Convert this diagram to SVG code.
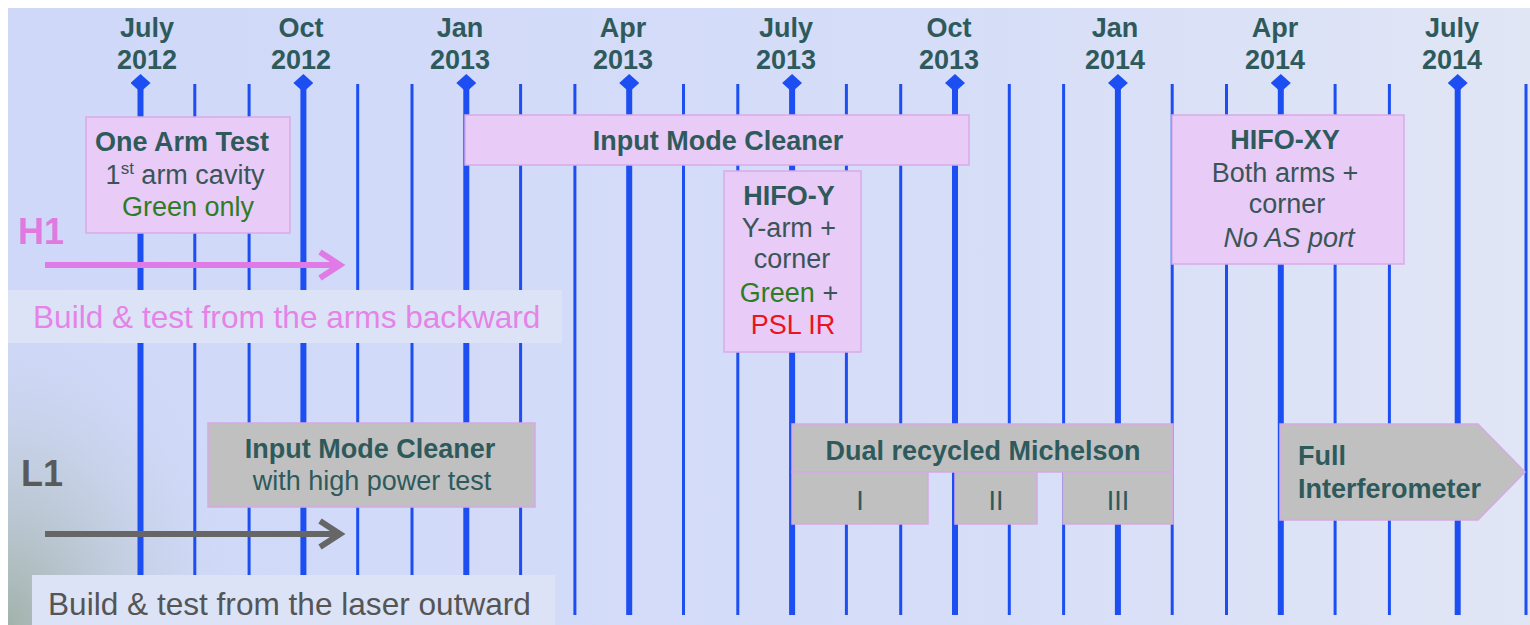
<svg xmlns="http://www.w3.org/2000/svg" width="1530" height="625" viewBox="0 0 1530 625">
<defs>
<linearGradient id="bg" x1="0" y1="0" x2="1" y2="0">
<stop offset="0" stop-color="#cfd8f8"/>
<stop offset="0.6" stop-color="#d5ddf8"/>
<stop offset="1" stop-color="#e1e6f5"/>
</linearGradient>
<radialGradient id="glow" cx="8" cy="625" r="330" gradientUnits="userSpaceOnUse" gradientTransform="translate(8 625) scale(0.75 1) translate(-8 -625)">
<stop offset="0" stop-color="#9fb0a6" stop-opacity="0.95"/>
<stop offset="0.45" stop-color="#b5c2c6" stop-opacity="0.55"/>
<stop offset="1" stop-color="#d0d9f5" stop-opacity="0"/>
</radialGradient>
<marker id="dia" markerWidth="20" markerHeight="18" refX="10" refY="9" markerUnits="userSpaceOnUse" orient="0">
<path d="M10 0 L20 9 L10 18 L0 9 Z" fill="#1c4ef2"/>
</marker>
<style>
.maj{stroke:#1c4ef2;stroke-width:6;marker-start:url(#dia)}
.min{stroke:#1c4ef2;stroke-width:3}
.mon{font-family:"Liberation Sans",Arial,sans-serif;font-weight:bold;font-size:27px;fill:#2e5a5c;text-anchor:middle}
.pink{fill:#e8cbf7;stroke:#d9abe8;stroke-width:1.5}
.gray{fill:#c0c0c0;stroke:#d6a9e4;stroke-width:1.5}
.b{font-family:"Liberation Sans",Arial,sans-serif;font-weight:bold;font-size:27px;fill:#2e5a5c;text-anchor:middle}
.r{font-family:"Liberation Sans",Arial,sans-serif;font-size:27px;fill:#3a5556;text-anchor:middle}
.s{text-anchor:start}
.grn{fill:#2e7d22}
.red{fill:#e8141e}
.tl{fill:#2e5a5c}
.panel{fill:#dce3f6}
.big{font-family:"Liberation Sans",Arial,sans-serif;font-size:31.6px}
.site{font-family:"Liberation Sans",Arial,sans-serif;font-weight:bold;font-size:36px}
</style>
</defs>
<rect x="0" y="0" width="1530" height="625" fill="#ffffff"/>
<rect x="8" y="8" width="1522" height="617" fill="url(#bg)"/>
<rect x="8" y="280" width="600" height="345" fill="url(#glow)"/>

<g id="timeline">
<line class="maj" x1="140.5" y1="83" x2="140.5" y2="615"/>
<line class="min" x1="194.8" y1="84" x2="194.8" y2="615"/>
<line class="min" x1="249.1" y1="84" x2="249.1" y2="615"/>
<line class="maj" x1="303.4" y1="83" x2="303.4" y2="615"/>
<line class="min" x1="357.7" y1="84" x2="357.7" y2="615"/>
<line class="min" x1="412" y1="84" x2="412" y2="615"/>
<line class="maj" x1="466.3" y1="83" x2="466.3" y2="615"/>
<line class="min" x1="520.6" y1="84" x2="520.6" y2="615"/>
<line class="min" x1="574.9" y1="84" x2="574.9" y2="615"/>
<line class="maj" x1="629.2" y1="83" x2="629.2" y2="615"/>
<line class="min" x1="683.5" y1="84" x2="683.5" y2="615"/>
<line class="min" x1="737.8" y1="84" x2="737.8" y2="615"/>
<line class="maj" x1="792.1" y1="83" x2="792.1" y2="615"/>
<line class="min" x1="846.4" y1="84" x2="846.4" y2="615"/>
<line class="min" x1="900.7" y1="84" x2="900.7" y2="615"/>
<line class="maj" x1="955" y1="83" x2="955" y2="615"/>
<line class="min" x1="1009.3" y1="84" x2="1009.3" y2="615"/>
<line class="min" x1="1063.6" y1="84" x2="1063.6" y2="615"/>
<line class="maj" x1="1117.9" y1="83" x2="1117.9" y2="615"/>
<line class="min" x1="1172.2" y1="84" x2="1172.2" y2="615"/>
<line class="min" x1="1226.5" y1="84" x2="1226.5" y2="615"/>
<line class="maj" x1="1280.8" y1="83" x2="1280.8" y2="615"/>
<line class="min" x1="1335.1" y1="84" x2="1335.1" y2="615"/>
<line class="min" x1="1389.4" y1="84" x2="1389.4" y2="615"/>
<line class="maj" x1="1457.7" y1="83" x2="1457.7" y2="615"/>
<line class="min" x1="1526" y1="84" x2="1526" y2="615"/>
</g>

<g id="months">
<text class="mon" x="147" y="37">July<tspan x="147" y="69">2012</tspan></text>
<text class="mon" x="301" y="37">Oct<tspan x="301" y="69">2012</tspan></text>
<text class="mon" x="460" y="37">Jan<tspan x="460" y="69">2013</tspan></text>
<text class="mon" x="623" y="37">Apr<tspan x="623" y="69">2013</tspan></text>
<text class="mon" x="786" y="37">July<tspan x="786" y="69">2013</tspan></text>
<text class="mon" x="949" y="37">Oct<tspan x="949" y="69">2013</tspan></text>
<text class="mon" x="1115" y="37">Jan<tspan x="1115" y="69">2014</tspan></text>
<text class="mon" x="1275" y="37">Apr<tspan x="1275" y="69">2014</tspan></text>
<text class="mon" x="1452" y="37">July<tspan x="1452" y="69">2014</tspan></text>
</g>

<g id="h1-panel">
<rect class="panel" x="8" y="290" width="554" height="53"/>
<text class="big" x="33" y="328" fill="#e483e8">Build &amp; test from the arms backward</text>
</g>
<g id="l1-panel">
<rect class="panel" x="32" y="575" width="523" height="50"/>
<text class="big" x="48" y="615" fill="#555555">Build &amp; test from the laser outward</text>
</g>

<g id="h1-label"><text class="site" x="18" y="244" fill="#e07ae0">H1</text></g>
<g id="l1-label"><text class="site" x="21" y="486" fill="#5a5a5a">L1</text></g>

<g id="connectors" fill="none" stroke-width="6">
<line x1="45" y1="265" x2="338" y2="265" stroke="#e07ae6"/>
<polyline points="320,252 340,265 320,278" stroke="#e07ae6"/>
<line x1="45" y1="534" x2="338" y2="534" stroke="#666666"/>
<polyline points="320,521 340,534 320,547" stroke="#666666"/>
</g>

<g id="one-arm-test">
<rect class="pink" x="86" y="117" width="204" height="116"/>
<text class="b" x="182" y="151">One Arm Test</text>
<text class="r" x="185" y="184">1<tspan font-size="17" dy="-10">st</tspan><tspan dy="10"> arm cavity</tspan></text>
<text class="r grn" x="188" y="216">Green only</text>
</g>

<g id="imc-h1">
<rect class="pink" x="465" y="115" width="504" height="50"/>
<text class="b" x="718" y="150">Input Mode Cleaner</text>
</g>

<g id="hifo-y">
<rect class="pink" x="724" y="171" width="137" height="181"/>
<text class="b" x="789" y="205">HIFO-Y</text>
<text class="r" x="789" y="237">Y-arm +</text>
<text class="r" x="792" y="268">corner</text>
<text class="r" x="789" y="302"><tspan class="grn">Green</tspan> +</text>
<text class="r red" x="793" y="334">PSL IR</text>
</g>

<g id="hifo-xy">
<rect class="pink" x="1172" y="115" width="232" height="149"/>
<text class="b" x="1285" y="149">HIFO-XY</text>
<text class="r" x="1285" y="182">Both arms +</text>
<text class="r" x="1287" y="213">corner</text>
<text class="r" x="1289" y="247" font-style="italic">No AS port</text>
</g>

<g id="imc-l1">
<rect class="gray" x="208" y="423" width="327" height="84"/>
<text class="b" x="370" y="458">Input Mode Cleaner</text>
<text class="r tl" x="372" y="490">with high power test</text>
</g>

<g id="drmi">
<rect class="gray" x="792" y="424" width="381" height="48"/>
<text class="b" x="983" y="460">Dual recycled Michelson</text>
</g>
<g id="drmi-1">
<rect class="gray" x="792" y="472" width="136" height="52"/>
<text class="r tl" x="860" y="510">I</text>
</g>
<g id="drmi-2">
<rect class="gray" x="955" y="472" width="82" height="52"/>
<text class="r tl" x="996" y="510">II</text>
</g>
<g id="drmi-3">
<rect class="gray" x="1063" y="472" width="110" height="52"/>
<text class="r tl" x="1118" y="510">III</text>
</g>

<g id="full-ifo">
<polygon class="gray" points="1280,424 1478,424 1525,472 1478,520 1280,520"/>
<text class="b s" x="1298" y="465">Full</text>
<text class="b s" x="1298" y="498">Interferometer</text>
</g>
</svg>
